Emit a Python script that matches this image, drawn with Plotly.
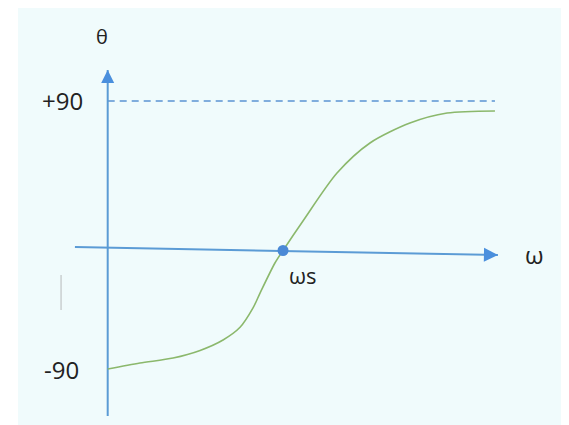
import plotly.graph_objects as go

# ---- data (omega in units of omega_s, theta in degrees) ----
omega = [0.0, 0.184, 0.373, 0.527, 0.658, 0.755, 0.829, 0.869, 0.954, 1.0,
         1.114, 1.308, 1.496, 1.724, 1.936, 2.209]
theta = [-90.0, -86.0, -82.6, -77.5, -70.5, -62.0, -49.0, -39.0, -18.8, -10.4,
         9.4, 41.6, 61.8, 75.2, 81.9, 83.3]

omega_s = [1.0]
theta_s = [-10.4]

ref_x = [0.0, 2.209]
ref_y = [90, 90]

h_axis_x = [-0.187, 2.226]
h_axis_y = [-8.1, -13.4]
v_axis_x = [0.0, 0.0]
v_axis_y = [-121.6, 110.8]

tick_vals = [90, -90]
tick_text = ["+90", "-90"]
tick_x = [-0.128, -0.152]

mark_x = [-0.266, -0.266]
mark_y = [-26.9, -50.4]

BLUE = "#5B9BD5"
GREEN = "#8BB86C"
TXT = "#222222"
FONT = "Open Sans"

fig = go.Figure()

fig.add_trace(go.Scatter(x=mark_x, y=mark_y, mode="lines",
                         line=dict(color="#C9CFD0", width=1.5), hoverinfo="skip"))
fig.add_trace(go.Scatter(x=ref_x, y=ref_y, mode="lines",
                         line=dict(color="#5B94D2", width=1.4, dash="7px,5px"), hoverinfo="skip"))
fig.add_trace(go.Scatter(x=v_axis_x, y=v_axis_y, mode="lines",
                         line=dict(color=BLUE, width=2), hoverinfo="skip"))
fig.add_trace(go.Scatter(x=h_axis_x, y=h_axis_y, mode="lines",
                         line=dict(color=BLUE, width=2), hoverinfo="skip"))
fig.add_trace(go.Scatter(x=omega, y=theta, mode="lines",
                         line=dict(color=GREEN, width=1.6, shape="spline", smoothing=0.8),
                         hoverinfo="skip"))
fig.add_trace(go.Scatter(x=omega_s, y=theta_s, mode="markers",
                         marker=dict(color="#4A89D6", size=11), hoverinfo="skip"))

annotations = []
annotations.append(dict(x=h_axis_x[1], y=h_axis_y[1], ax=h_axis_x[1] - 0.05,
                        ay=h_axis_y[1] + 0.11, xref="x", yref="y", axref="x", ayref="y",
                        showarrow=True, arrowhead=2, arrowsize=1.4, arrowwidth=2,
                        arrowcolor="#4A8FDD", text=""))
annotations.append(dict(x=v_axis_x[1], y=v_axis_y[1], ax=v_axis_x[1],
                        ay=v_axis_y[1] - 5, xref="x", yref="y", axref="x", ayref="y",
                        showarrow=True, arrowhead=2, arrowsize=1.3, arrowwidth=2,
                        arrowcolor="#4A8FDD", text=""))
for tx, tv, tt in zip(tick_x, tick_vals, tick_text):
    annotations.append(dict(x=tx, y=tv, xref="x", yref="y", text=tt, showarrow=False,
                            xanchor="right", yanchor="middle",
                            font=dict(family=FONT, size=24, color=TXT)))
annotations.append(dict(x=-0.033, y=133.6, xref="x", yref="y", text="θ", showarrow=False,
                        font=dict(family=FONT, size=20, color=TXT)))
annotations.append(dict(x=2.437, y=-13.4, xref="x", yref="y", text="ω", showarrow=False,
                        font=dict(family=FONT, size=24, color=TXT)))
annotations.append(dict(x=1.114, y=-27.0, xref="x", yref="y", text="ωs", showarrow=False,
                        font=dict(family=FONT, size=22, color=TXT)))

# page body adds an 8px offset, so the axis ranges are shifted by 8px
fig.update_layout(
    width=569, height=425,
    margin=dict(l=0, r=0, t=0, b=0),
    paper_bgcolor="white",
    plot_bgcolor="rgba(0,0,0,0)",
    showlegend=False,
    xaxis=dict(range=[-0.5687, 2.677], visible=False, fixedrange=True),
    yaxis=dict(range=[-132.97, 152.45], visible=False, fixedrange=True),
    annotations=annotations,
    shapes=[dict(type="rect", xref="paper", yref="paper", x0=10 / 569, x1=1,
                 y0=0, y1=1, fillcolor="#F0FBFC", line=dict(width=0),
                 layer="below")],
)

fig.write_html("out.html")
